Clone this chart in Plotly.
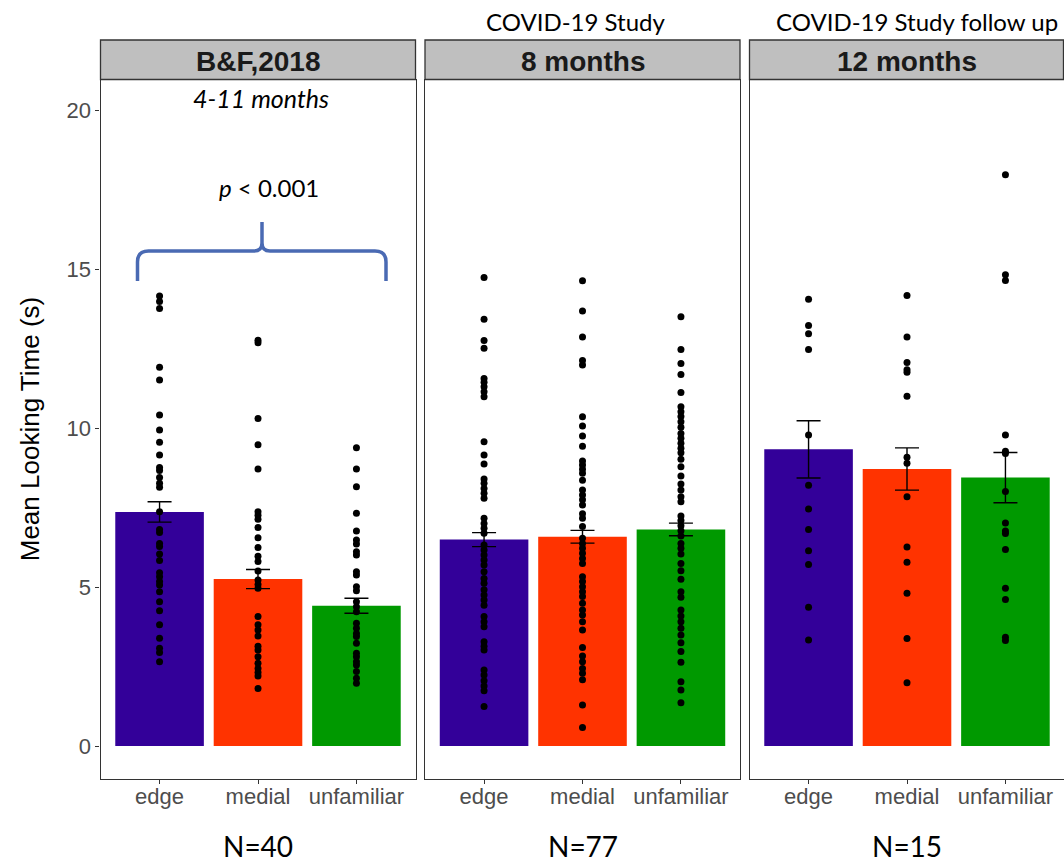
import plotly.graph_objects as go

# ---- data -------------------------------------------------------------
conditions = ["edge", "medial", "unfamiliar"]
bar_colors = ["#330099", "#FF3300", "#009900"]

panel_titles = ["B&F,2018", "8 months", "12 months"]
sample_sizes = ["N=40", "N=77", "N=15"]

# mean looking time and standard error per condition
bf_means = [7.36, 5.25, 4.41]
bf_se = [0.32, 0.30, 0.235]
m8_means = [6.49, 6.58, 6.81]
m8_se = [0.22, 0.20, 0.20]
m12_means = [9.33, 8.71, 8.44]
m12_se = [0.90, 0.665, 0.79]

# individual infants' looking times (s)
bf_edge = [14.15, 13.98, 13.76, 11.91, 11.51, 10.41, 9.94, 9.55, 9.15, 8.76, 8.66,
           8.44, 8.26, 8.14, 7.37, 6.81, 6.71, 6.37, 6.27, 6.04, 5.83, 5.45, 5.32,
           5.17, 5.06, 4.85, 4.54, 4.25, 3.81, 3.39, 3.07, 2.94, 2.65]
bf_medial = [12.76, 12.68, 10.30, 9.47, 8.71, 7.37, 7.26, 7.13, 6.87, 6.55, 6.24,
             5.97, 5.80, 5.50, 5.22, 5.08, 4.96, 4.07, 3.81, 3.65, 3.46, 3.14, 3.02,
             2.81, 2.60, 2.44, 2.31, 2.20, 1.81]
bf_unfamiliar = [9.38, 8.71, 8.15, 7.32, 6.76, 6.48, 6.35, 6.11, 6.01, 5.48, 5.38,
                 5.01, 4.88, 4.54, 4.38, 4.22, 3.86, 3.70, 3.54, 3.44, 3.23, 2.92,
                 2.81, 2.65, 2.55, 2.34, 2.13, 1.97]

m8_edge = [14.73, 13.42, 12.75, 12.51, 11.56, 11.44, 11.30, 11.14, 10.98, 9.57, 9.15,
           8.87, 8.40, 8.26, 8.10, 7.95, 7.79, 7.16, 7.00, 6.85, 6.69, 6.32, 6.16,
           6.01, 5.85, 5.69, 5.48, 5.27, 5.12, 4.91, 4.75, 4.59, 4.43, 4.07, 3.91,
           3.75, 3.28, 3.14, 3.02, 2.39, 2.23, 2.05, 1.89, 1.74, 1.24]
m8_medial = [14.63, 13.68, 12.86, 12.12, 11.98, 10.35, 10.06, 9.75, 9.43, 8.96, 8.84,
             8.70, 8.58, 8.36, 8.05, 7.89, 7.74, 7.58, 7.30, 7.16, 6.90, 6.53, 6.37,
             6.22, 6.06, 5.90, 5.74, 5.32, 5.17, 5.01, 4.85, 4.70, 4.49, 4.28, 4.12,
             3.91, 3.65, 3.10, 2.83, 2.65, 2.44, 2.29, 2.08, 1.29, 0.58]
m8_unfamiliar = [13.50, 12.47, 12.03, 11.68, 11.12, 10.67, 10.51, 10.36, 10.20, 10.02,
                 9.83, 9.68, 9.52, 9.36, 9.22, 9.02, 8.78, 8.49, 8.24, 8.05, 7.84,
                 7.68, 7.23, 7.09, 6.93, 6.77, 6.60, 6.37, 6.22, 6.04, 5.74, 5.51,
                 5.24, 4.85, 4.68, 4.28, 4.09, 3.91, 3.70, 3.49, 3.25, 2.97, 2.63,
                 2.02, 1.76, 1.36]

m12_edge = [14.05, 13.22, 12.96, 12.47, 9.78, 8.20, 7.45, 6.81, 6.14, 5.71, 4.36, 3.33]
m12_medial = [14.17, 12.86, 12.06, 11.83, 11.75, 11.00, 9.08, 8.89, 7.84, 6.26, 5.78,
              4.80, 3.38, 1.99]
m12_unfamiliar = [17.96, 14.82, 14.64, 9.78, 9.27, 9.20, 8.00, 7.01, 6.76, 6.68, 6.18,
                  4.96, 4.61, 3.42, 3.32]

y_ticks = [0, 5, 10, 15, 20]

panels = [
    (bf_means, bf_se, [bf_edge, bf_medial, bf_unfamiliar]),
    (m8_means, m8_se, [m8_edge, m8_medial, m8_unfamiliar]),
    (m12_means, m12_se, [m12_edge, m12_medial, m12_unfamiliar]),
]

# ---- page geometry (pixels) -------------------------------------------
W, H = 1064, 862
panel_px = [(100.5, 415.5), (425.0, 740.0), (749.5, 1063.5)]
plot_top, plot_bottom = 79.5, 779.0
strip_top = 40.0
px_per_unit = 31.8
zero_px = 746.0


def X(px):
    return px / W


def Y(py):
    return 1 - py / H


y_range = [-(plot_bottom - zero_px) / px_per_unit, (zero_px - plot_top) / px_per_unit]
cat_spacing = (panel_px[0][1] - panel_px[0][0]) / 3.2

tick_font = dict(family="Liberation Sans, Arial, sans-serif", size=22, color="#4D4D4D")
line_col = "#333333"

fig = go.Figure()
layout = dict(
    width=W, height=H, margin=dict(l=0, r=0, t=0, b=0),
    paper_bgcolor="white", plot_bgcolor="white", showlegend=False,
    bargap=0.1,
)

for i, (means, se, pts) in enumerate(panels):
    n = "" if i == 0 else str(i + 1)
    xa, ya = "x" + n, "y" + n
    left, right = panel_px[i]
    x_hi = -0.6 + (right - left) / cat_spacing
    layout["xaxis" + n] = dict(
        domain=[X(left), X(right)], range=[-0.6, x_hi], anchor=ya,
        tickvals=[0, 1, 2], ticktext=conditions, tickfont=tick_font,
        ticks="outside", ticklen=4, tickcolor=line_col, tickwidth=1.2,
        ticklabelstandoff=-7,
        showline=True, mirror=True, linecolor=line_col, linewidth=1.3,
        showgrid=False, zeroline=False, fixedrange=True,
    )
    layout["yaxis" + n] = dict(
        domain=[Y(plot_bottom), Y(plot_top)], range=y_range, anchor=xa,
        tickvals=y_ticks, tickfont=tick_font,
        ticks="outside" if i == 0 else "", ticklen=4, tickcolor=line_col,
        tickwidth=1.2, showticklabels=(i == 0),
        showline=True, mirror=True, linecolor=line_col, linewidth=1.3,
        showgrid=False, zeroline=False, fixedrange=True,
    )

    fig.add_trace(go.Bar(
        x=[0, 1, 2], y=means, width=0.9, xaxis=xa, yaxis=ya,
        marker=dict(color=bar_colors, line=dict(width=0)),
    ))
    for c, vals in enumerate(pts):
        fig.add_trace(go.Scatter(
            x=[c] * len(vals), y=vals, mode="markers", xaxis=xa, yaxis=ya,
            marker=dict(color="black", size=7, line=dict(width=0)),
        ))
    fig.add_trace(go.Scatter(
        x=[0, 1, 2], y=means, mode="markers", xaxis=xa, yaxis=ya,
        marker=dict(size=0, opacity=0),
        error_y=dict(type="data", array=se, visible=True, color="black",
                     thickness=1.4, width=12),
    ))

shapes = []
annotations = []


def note(text, x, y, font, **kw):
    annotations.append(dict(
        text=text, x=X(x), y=Y(y), xref="paper", yref="paper", showarrow=False,
        xanchor="center", yanchor="middle", font=font, **kw,
    ))


# facet strips
for i, (left, right) in enumerate(panel_px):
    shapes.append(dict(
        type="rect", xref="paper", yref="paper",
        x0=X(left), x1=X(right), y0=Y(plot_top), y1=Y(strip_top),
        fillcolor="#BFBFBF", line=dict(color=line_col, width=1.3), layer="above",
    ))
    note(panel_titles[i], (left + right) / 2, 61.5,
         dict(family="Liberation Sans, Arial, sans-serif", size=28,
              color="#1A1A1A", weight="bold"))
    note(sample_sizes[i], (left + right) / 2, 846,
         dict(family="Lato, sans-serif", size=28, color="black"))

# y axis title
note("Mean Looking Time (s)", 30, (plot_top + plot_bottom) / 2,
     dict(family="Liberation Sans, Arial, sans-serif", size=26, color="black"),
     textangle=-90)

# study labels above the facets
label_font = dict(family="Lato, sans-serif", size=24, color="black")
note("COVID-19 Study", 575, 21, label_font)
note("COVID-19 Study follow up", 917, 21, label_font)

# age range and significance note inside the first panel
note("4-11 months", 261, 98,
     dict(family="Lato, sans-serif", size=25, color="black", style="italic"))
note("<i>p</i> < 0.001", 269, 187, dict(family="Lato, sans-serif", size=24, color="black"))

# curly brace spanning the three conditions of the first panel
brace_pts = [
    ("M", 137.5, 281), ("L", 137.5, 262), ("Q", 137.5, 251, 148.5, 251),
    ("L", 254, 251), ("Q", 262, 251, 262, 243), ("L", 262, 222),
    ("M", 262, 222), ("L", 262, 243), ("Q", 262, 251, 270, 251),
    ("L", 375, 251), ("Q", 386, 251, 386, 262), ("L", 386, 281),
]
path = ""
for seg in brace_pts:
    cmd, coords = seg[0], seg[1:]
    pairs = [f"{X(coords[k]):.5f},{Y(coords[k + 1]):.5f}" for k in range(0, len(coords), 2)]
    path += cmd + " ".join(pairs) + " "
shapes.append(dict(type="path", xref="paper", yref="paper", path=path.strip(),
                   line=dict(color="#4A6AB3", width=3.5)))

layout["shapes"] = shapes
layout["annotations"] = annotations
fig.update_layout(**layout)

fig.write_html("out.html")
